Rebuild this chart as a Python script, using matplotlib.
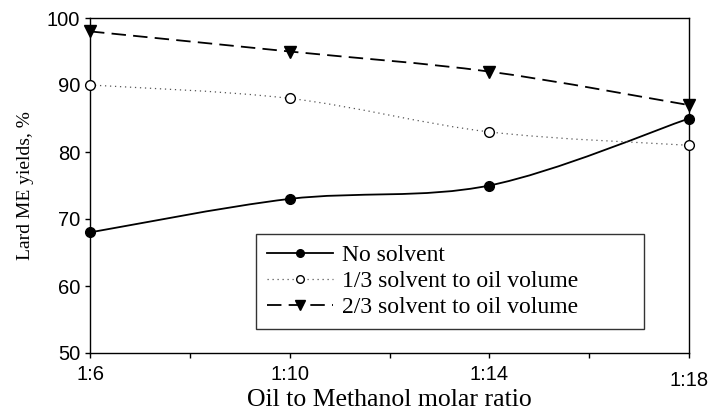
import numpy as np
import matplotlib.pyplot as plt
from matplotlib.path import Path
from matplotlib.patches import PathPatch
from matplotlib.lines import Line2D

# data
ratio = [6, 10, 14, 18]
ratio_labels = ['1:6', '1:10', '1:14', '1:18']
no_solvent = [68, 73, 75, 85]
third_solvent = [90, 88, 83, 81]
two_third_solvent = [98, 95, 92, 87]
names = ['No solvent', '1/3 solvent to oil volume', '2/3 solvent to oil volume']


def smooth_path(x, y):
    # Catmull-Rom style bezier through the points
    x = np.asarray(x, float)
    y = np.asarray(y, float)
    verts = [(x[0], y[0])]
    codes = [Path.MOVETO]
    n = len(x)
    for i in range(n - 1):
        i0 = max(i - 1, 0)
        i3 = min(i + 2, n - 1)
        c1 = (x[i] + (x[i + 1] - x[i0]) / 6, y[i] + (y[i + 1] - y[i0]) / 6)
        c2 = (x[i + 1] - (x[i3] - x[i]) / 6, y[i + 1] - (y[i3] - y[i]) / 6)
        verts += [c1, c2, (x[i + 1], y[i + 1])]
        codes += [Path.CURVE4] * 3
    return Path(verts, codes)


fig = plt.figure(figsize=(7.11, 4.13), dpi=100)
ax = fig.add_axes([90 / 711, 1 - 353 / 413, 599 / 711, 335 / 413])

styles = [
    dict(ls='-', lw=1.3, color='black', marker='o', mfc='black', ms=7),
    dict(ls=(0, (1, 3)), lw=0.9, color='#555555', marker='o', mfc='white', mec='black', ms=7),
    dict(ls=(0, (8, 4)), lw=1.3, color='black', marker='v', mfc='black', ms=8),
]
handles = []
for ys, st, nm in zip([no_solvent, third_solvent, two_third_solvent], styles, names):
    p = PathPatch(smooth_path(ratio, ys), fill=False, edgecolor=st['color'],
                  lw=st['lw'], ls=st['ls'], transform=ax.transData, zorder=2)
    ax.add_patch(p)
    ax.plot(ratio, ys, ls='none', marker=st['marker'], ms=st['ms'],
            mfc=st['mfc'], mec=st.get('mec', 'black'), clip_on=False, zorder=3)
    handles.append(Line2D([], [], color=st['color'], lw=st['lw'], ls=st['ls'],
                          marker=st['marker'], ms=st['ms'] - 1.5, mfc=st['mfc'],
                          mec=st.get('mec', 'black')))

ax.set_xlim(6, 18)
ax.set_ylim(50, 100)
ax.set_xticks([6, 8, 10, 12, 14, 16, 18])
ax.set_xticklabels(['1:6', '', '1:10', '', '1:14', '', ''])
# the last label sits a little lower in the original
ax.text(18, 47.3, '1:18', ha='center', va='top', fontsize=14.5, family='Liberation Sans')
ax.set_yticks([50, 60, 70, 80, 90, 100])
ax.tick_params(labelsize=14.5, length=3.5, width=1)
ax.tick_params(axis='x', pad=5)
for lab in ax.get_xticklabels() + ax.get_yticklabels():
    lab.set_family('Liberation Sans')
for s in ax.spines.values():
    s.set_linewidth(1)

ax.set_xlabel('Oil to Methanol molar ratio', family='Liberation Serif', fontsize=18.5, labelpad=4)
ax.set_ylabel('Lard ME yields, %', family='Liberation Serif', fontsize=14, labelpad=9)

x0 = (256 - 90) / 599
y0 = (353 - 329) / 335
leg = ax.legend(handles, names, loc='lower left', mode='expand',
                bbox_to_anchor=(x0, y0, (644 - 256) / 599, (329 - 235) / 335),
                prop={'family': 'Liberation Serif', 'size': 17}, frameon=True, fancybox=False,
                edgecolor='black', handlelength=2.8, handletextpad=0.4,
                borderpad=0.45, labelspacing=0.2, borderaxespad=0)
leg.get_frame().set_linewidth(1)

fig.savefig('out.png', dpi=100)
